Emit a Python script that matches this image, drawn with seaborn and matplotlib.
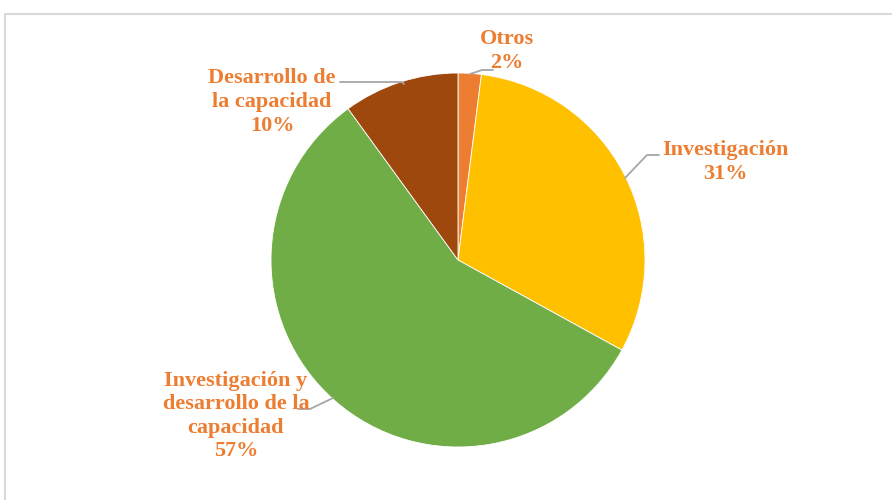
import matplotlib
matplotlib.use("Agg")
import matplotlib.pyplot as plt
import seaborn as sns
from matplotlib.patches import Rectangle

categories = ["Otros", "Investigación", "Investigación y\ndesarrollo de la\ncapacidad", "Desarrollo de\nla capacidad"]
values = [2, 31, 57, 10]
colors = ["#ED7D31", "#FFC000", "#70AD47", "#9E480E"]

sns.set_theme(style="white")
plt.rcParams['font.family'] = ['Liberation Serif', 'DejaVu Serif']

W, H = 892, 500
fig = plt.figure(figsize=(W / 100, H / 100), dpi=100)
ax = fig.add_axes([0, 0, 1, 1])

cx, cy, r = 458, H - 260, 187
ax.pie(values, colors=colors, startangle=90, counterclock=False, center=(cx, cy), radius=r,
       wedgeprops=dict(linewidth=0.6, edgecolor="white"), frame=True)
ax.set_xlim(0, W)
ax.set_ylim(0, H)
ax.set_aspect("equal")
ax.axis("off")

# chart frame
ax.add_patch(Rectangle((5, -10), W + 20, H - 14 + 10, fill=False, edgecolor="#D9D9D9", linewidth=1.5))

lab_color = "#ED7D31"
line_color = "#A6A6A6"

def Y(p):
    return H - p

labels = [f"{c}\n{v}%" for c, v in zip(categories, values)]
label_pos = [(507, 51), (725, 162), (236, 416), (272, 102)]
leaders = [
    [(470, 74), (482, 70), (493, 70)],
    [(625, 178), (647, 155), (659, 155)],
    [(298, 409), (310, 409), (333, 398)],
    [(340, 82), (402, 82), (404, 84)],
]

for i in range(len(values)):
    x, y = label_pos[i]
    ax.text(x, Y(y), labels[i], ha="center", va="center", fontsize=16, fontweight="bold",
            color=lab_color, linespacing=1.24)
    xs = [p[0] for p in leaders[i]]
    ys = [Y(p[1]) for p in leaders[i]]
    ax.plot(xs, ys, color=line_color, linewidth=1.3)

fig.savefig("out.png", dpi=100)
